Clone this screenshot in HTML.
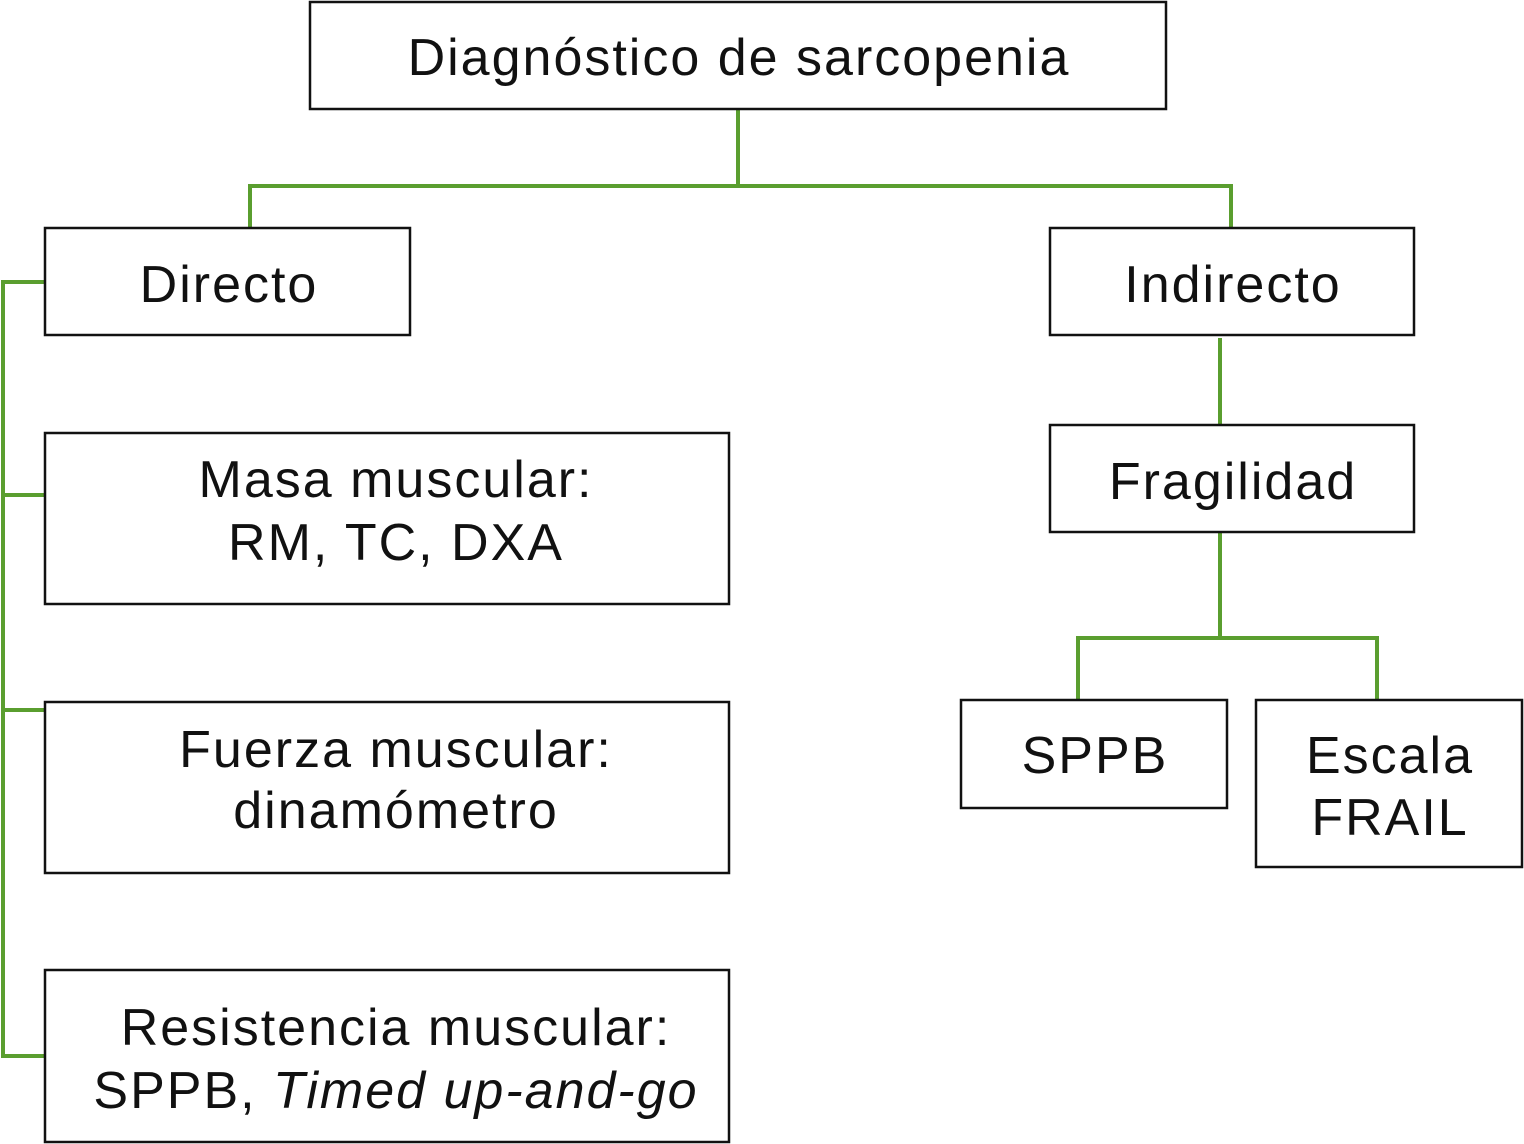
<!DOCTYPE html>
<html><head><meta charset="utf-8"><style>
html,body{margin:0;padding:0;background:#fff;}
svg{display:block;}
text{font-family:"Liberation Sans",Arial,sans-serif;font-size:52px;letter-spacing:2px;fill:#111;text-anchor:middle;}
</style></head><body>
<svg width="1524" height="1144" viewBox="0 0 1524 1144" xmlns="http://www.w3.org/2000/svg">
<g fill="none" stroke="#5a9e2f" stroke-width="4">
<path d="M738 109 V186 M250 230 V186 H1231 V230"/>
<path d="M45 282 H3 V1056 H45 M3 495 H45 M3 710 H45"/>
<path d="M1220 338 V425 M1220 532 V638 M1078 700 V638 H1377 V700"/>
</g>
<g fill="#fff" stroke="#111" stroke-width="2.5">
<rect x="310" y="2" width="856" height="107"/>
<rect x="45" y="228" width="365" height="107"/>
<rect x="1050" y="228" width="364" height="107"/>
<rect x="45" y="433" width="684" height="171"/>
<rect x="45" y="702" width="684" height="171"/>
<rect x="45" y="970" width="684" height="172"/>
<rect x="1050" y="425" width="364" height="107"/>
<rect x="961" y="700" width="266" height="108"/>
<rect x="1256" y="700" width="266" height="167"/>
</g>
<text x="739" y="75">Diagnóstico de sarcopenia</text>
<text x="229" y="302">Directo</text>
<text x="1233" y="302">Indirecto</text>
<text x="396" y="497">Masa muscular:</text>
<text x="396" y="560">RM, TC, DXA</text>
<text x="396" y="767">Fuerza muscular:</text>
<text x="396" y="828">dinamómetro</text>
<text x="396" y="1045">Resistencia muscular:</text>
<text x="396" y="1108">SPPB, <tspan font-style="italic">Timed up-and-go</tspan></text>
<text x="1233" y="499">Fragilidad</text>
<text x="1095" y="773">SPPB</text>
<text x="1390" y="773">Escala</text>
<text x="1390" y="835">FRAIL</text>
</svg>
</body></html>
